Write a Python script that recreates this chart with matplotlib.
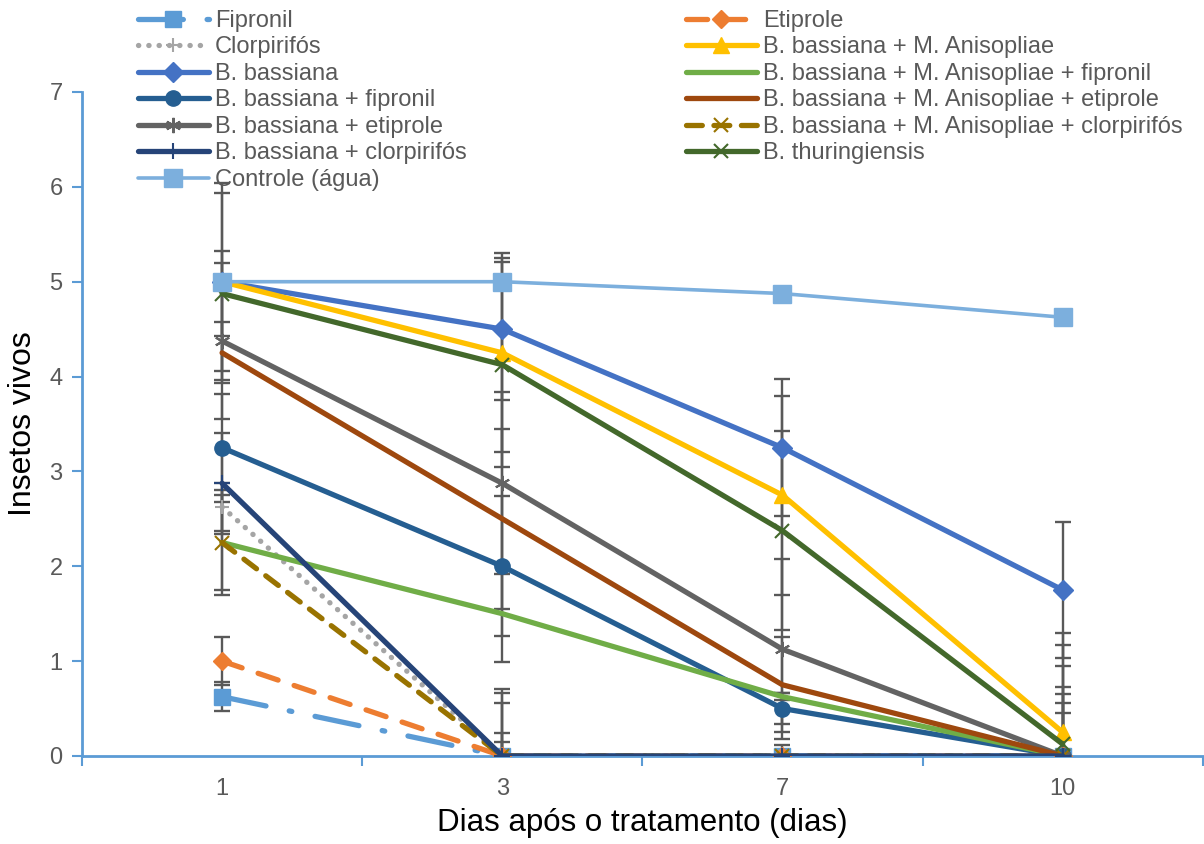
import matplotlib
matplotlib.use("Agg")
import matplotlib.pyplot as plt
import numpy as np

plt.rcParams['font.family'] = ['Liberation Sans', 'DejaVu Sans']

days = ["1", "3", "7", "10"]

fipronil = [0.625, 0, 0, 0]
etiprole = [1.0, 0, 0, 0]
clorpirifos = [2.625, 0, 0, 0]
bb = [5.0, 4.5, 3.25, 1.75]
bb_fip = [3.25, 2.0, 0.5, 0]
bb_eti = [4.375, 2.875, 1.125, 0]
bb_clo = [2.875, 0, 0, 0]
controle = [5.0, 5.0, 4.875, 4.625]
bbma = [5.0, 4.25, 2.75, 0.25]
bbma_fip = [2.25, 1.5, 0.625, 0]
bbma_eti = [4.25, 2.5, 0.75, 0]
bbma_clo = [2.25, 0, 0, 0]
thur = [4.875, 4.125, 2.375, 0.125]

# standard deviations
fipronil_sd = [0.15, 0.15, 0.0, 0.45]
etiprole_sd = [0.25, 0.24, 0.12, 0.56]
clorpirifos_sd = [0.25, 0.56, 0.0, 0.65]
bb_sd = [1.04, 0.75, 0.72, 0.72]
bb_fip_sd = [0.57, 0.74, 0.16, 0.73]
bb_eti_sd = [0.82, 0.96, 0.95, 0.95]
bb_clo_sd = [0.53, 0.66, 0.0, 0.0]
controle_sd = [0.0, 0.0, 0.0, 0.0]
bbma_sd = [0.94, 1.05, 1.05, 1.05]
bbma_fip_sd = [0.55, 0.51, 0.04, 0.0]
bbma_eti_sd = [0.32, 0.95, 0.5, 0.0]
bbma_clo_sd = [0.5, 0.71, 0.0, 0.0]
thur_sd = [0.45, 1.08, 1.05, 1.05]

x = np.arange(len(days)) + 0.5

fig = plt.figure(figsize=(12.04, 8.44), dpi=100)
ax = fig.add_axes([0.0681, 0.1043, 0.9309, 0.7867])

LW = 3.8
series = [
    ("Fipronil", fipronil, fipronil_sd, 3, dict(color="#5B9BD5", ls=(0, (8.5, 4.5, 0.5, 4.5)), marker="s", ms=11, lw=LW)),
    ("Etiprole", etiprole, etiprole_sd, 3, dict(color="#ED7D31", ls=(0, (4, 3.2)), marker="D", ms=9, lw=LW)),
    ("Clorpirifós", clorpirifos, clorpirifos_sd, 3, dict(color="#A5A5A5", ls=(0, (0.05, 1.9)), marker="+", ms=10, lw=LW, mew=1.5)),
    ("B. bassiana", bb, bb_sd, 3, dict(color="#4472C4", ls="-", marker="D", ms=10, lw=LW)),
    ("B. bassiana + M. Anisopliae", bbma, bbma_sd, 3, dict(color="#FFC000", ls="-", marker="^", ms=12, lw=LW)),
    ("B. bassiana + fipronil", bb_fip, bb_fip_sd, 3, dict(color="#255E91", ls="-", marker="o", ms=11, lw=LW)),
    ("B. bassiana + M. Anisopliae + fipronil", bbma_fip, bbma_fip_sd, 3, dict(color="#70AD47", ls="-", marker=None, lw=LW)),
    ("B. bassiana + etiprole", bb_eti, bb_eti_sd, 3, dict(color="#636363", ls="-", marker=(6, 2, 0), ms=11, lw=LW, mew=1.5)),
    ("B. bassiana + M. Anisopliae + etiprole", bbma_eti, bbma_eti_sd, 3, dict(color="#9E480E", ls="-", marker=None, lw=LW)),
    ("B. bassiana + M. Anisopliae + clorpirifós", bbma_clo, bbma_clo_sd, 3, dict(color="#997300", ls=(0, (3.0, 2.2)), marker="x", ms=10, lw=LW, mew=1.5)),
    ("B. bassiana + clorpirifós", bb_clo, bb_clo_sd, 3.5, dict(color="#264478", ls="-", marker="+", ms=11, lw=LW, mew=1.5)),
    ("Controle (água)", controle, controle_sd, 3.6, dict(color="#7CAFDD", ls="-", marker="s", ms=13, lw=2.6)),
    ("B. thuringiensis", thur, thur_sd, 3, dict(color="#43682B", ls="-", marker="x", ms=10, lw=LW, mew=1.5)),
]

handles = {}
for name, vals, sd, z, st in series:
    ax.errorbar(x, vals, yerr=sd, fmt="none", ecolor="#595959", elinewidth=1.7,
                capsize=5.5, capthick=1.7, zorder=2)
    kw = dict(st)
    h, = ax.plot(x, vals, label=name, zorder=z, solid_capstyle="round",
                 dash_capstyle="round", mec=kw["color"], **kw)
    handles[name] = h

ax.set_xlim(0, 4)
ax.set_ylim(0, 7)
ax.set_xticks(x)
ax.set_xticklabels(days)
ax.set_xticks(np.arange(0, 5), minor=True)
ax.set_yticks(np.arange(0, 8))
ax.tick_params(axis="x", which="major", length=0, pad=16, labelsize=17, labelcolor="#595959")
ax.tick_params(axis="x", which="minor", length=7, width=1.5, color="#5B9BD5", direction="out")
ax.tick_params(axis="y", length=7, width=1.5, color="#5B9BD5", direction="out",
               labelsize=17, labelcolor="#595959", pad=7)

for s in ["top", "right"]:
    ax.spines[s].set_visible(False)
for s in ["left", "bottom"]:
    ax.spines[s].set_color("#5B9BD5")
    ax.spines[s].set_linewidth(2)

ax.set_xlabel("Dias após o tratamento (dias)", fontsize=22.5)
ax.xaxis.set_label_coords(0.5, -0.079)
ax.set_ylabel("Insetos vivos", fontsize=23)
ax.yaxis.set_label_coords(-0.039, 0.5)

left_col = ["Fipronil", "Clorpirifós", "B. bassiana", "B. bassiana + fipronil",
            "B. bassiana + etiprole", "B. bassiana + clorpirifós", "Controle (água)"]
right_col = ["Etiprole", "B. bassiana + M. Anisopliae", "B. bassiana + M. Anisopliae + fipronil",
             "B. bassiana + M. Anisopliae + etiprole", "B. bassiana + M. Anisopliae + clorpirifós",
             "B. thuringiensis"]

leg_kw = dict(loc="upper left", frameon=False, fontsize=17, labelspacing=0.19,
              handlelength=3.0, handletextpad=0.25, borderpad=0, borderaxespad=0)
leg1 = fig.legend([handles[n] for n in left_col], left_col,
                  bbox_to_anchor=(138 / 1204, 1 - 10 / 844), **leg_kw)
leg2 = fig.legend([handles[n] for n in right_col], right_col,
                  bbox_to_anchor=(686 / 1204, 1 - 10 / 844), **leg_kw)
for lg in (leg1, leg2):
    for t in lg.get_texts():
        t.set_color("#595959")

fig.savefig("out.png", dpi=100)
